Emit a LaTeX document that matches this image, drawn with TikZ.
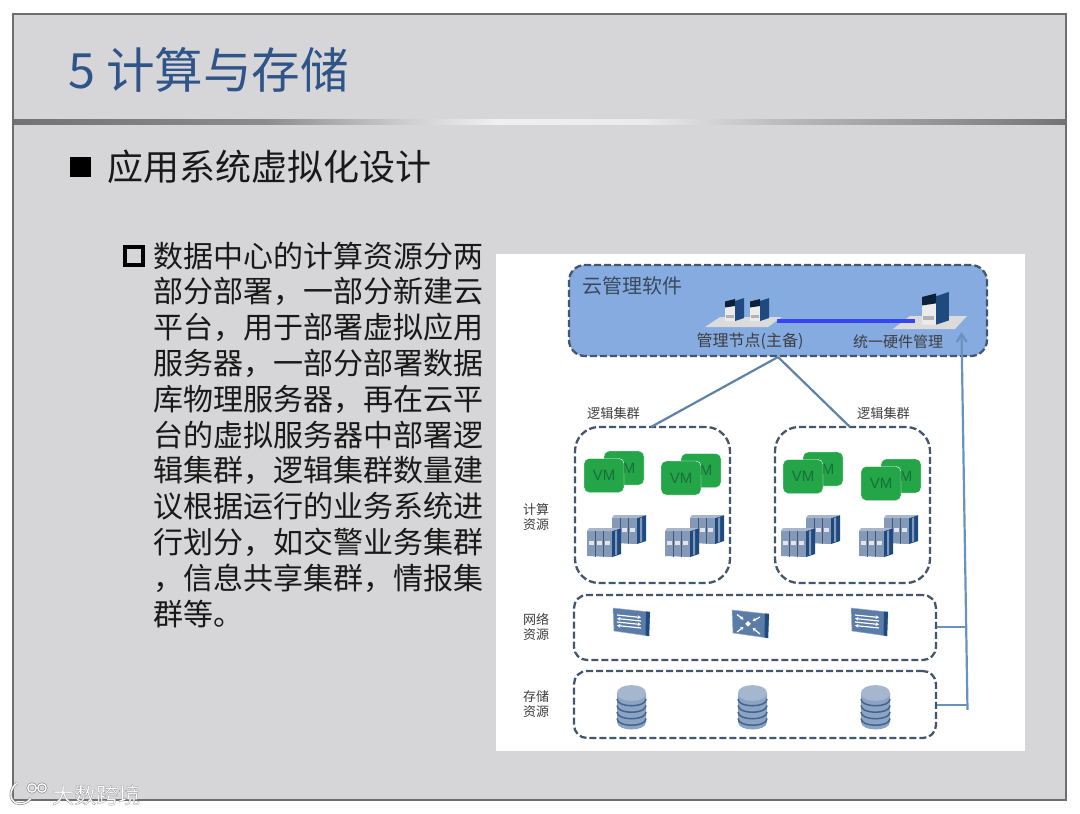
\documentclass[tikz,border=0pt]{standalone}
\usepackage{fontspec}
\setmainfont{Liberation Sans}
\newfontfamily\cjk{Noto Sans CJK SC}
\newfontfamily\wmfont[FakeBold=1.0]{Noto Sans CJK SC}
\usetikzlibrary{arrows.meta,shapes.geometric}
\definecolor{slidebg}{HTML}{D6D6D8}
\definecolor{framec}{HTML}{6E6E70}
\definecolor{titleblue}{HTML}{2F5488}
\definecolor{dashc}{HTML}{44566C}
\definecolor{linkc}{HTML}{5F83A6}
\definecolor{busc}{HTML}{6A92BC}
\definecolor{cloudc}{HTML}{86ABE0}
\definecolor{vmg}{HTML}{23A548}
\definecolor{vmt}{HTML}{17703A}
\definecolor{dkblue}{HTML}{1E4A80}
\definecolor{midblue}{HTML}{5C7CA8}
\definecolor{rackc}{HTML}{8498B8}
\definecolor{labelc}{HTML}{3E3E3E}
\pgfdeclarehorizontalshading{rulesh}{100bp}{color(0bp)=(black!55); color(25bp)=(black!55); color(37bp)=(black!45); color(44bp)=(black!18); color(48bp)=(black!6); color(55bp)=(black!8); color(62bp)=(black!28); color(72bp)=(black!48); color(75bp)=(black!55); color(100bp)=(black!55)}
\tikzset{
  dashbox/.style={draw=dashc,line width=2.3pt,dash pattern=on 7pt off 3pt,rounded corners=#1},
  dashbox/.default=18pt,
  vmbox/.style={fill=vmg,draw=white,line width=.4pt,rounded corners=5pt,minimum width=40pt,minimum height=34pt,inner sep=0pt,text=vmt,font=\fontsize{15}{15}\selectfont},
  reslabel/.style={font=\cjk\fontsize{13}{15.5}\selectfont,text=labelc,align=center,inner sep=0pt},
  smalllabel/.style={font=\cjk\fontsize{13.2}{14}\selectfont,text=labelc,inner sep=0pt},
  nodelabel/.style={font=\cjk\fontsize{15}{16}\selectfont,text=labelc,inner sep=0pt},
  linkline/.style={draw=linkc,line width=2.2pt},
  busline/.style={draw=busc,line width=2.2pt},
  wharrow/.style={draw=white,line width=1.2pt,-{Stealth[length=3.4pt,width=3.8pt]}},
  logoshadow/.style={draw=black!45,line width=2.6pt,fill=none},
  logostroke/.style={draw=white,line width=1.3pt,fill=none},
}
\newcommand\vmpair[3]{%
  \node[vmbox] (#1b) at ({#2+40},{#3-7.5}) {VM};
  \node[vmbox] (#1f) at ({#2+20},{#3}) {VM};
}
\newcommand\rackone[2]{%
  \begin{scope}[shift={(#1,#2)}]
    \fill[rackc] (0,3) -- (25,3) -- (25,29) -- (0,28) -- cycle;
    \fill[dkblue] (25,3) -- (34,0) -- (34,26) -- (25,29) -- cycle;
    \fill[rackc!70!white] (2,0) -- (34,0) -- (25,3) -- (0,3) -- cycle;
    \foreach \u in {8,16} \fill[midblue!70!black] (\u,3) rectangle (\u+1.4,28.5);
    \foreach \u in {1.5,9.8,18} \fill[white!75!rackc] (\u,13) rectangle (\u+5.4,17);
    \fill[rackc] (28,3) -- (30,2.3) -- (30,26.5) -- (28,27.2) -- cycle;
  \end{scope}}
\newcommand\rackpair[2]{\rackone{#1+25}{#2-13}\rackone{#1}{#2}}
\newcommand\switchbody{%
  \fill[midblue,draw=midblue!60!white,line width=.5pt] (0,0) -- (37,4) -- (36,28) -- (1,23) -- cycle;
  \fill[dkblue] (33,3.6) -- (37,4) -- (36,28) -- (32.5,27.5) -- cycle;
}
\newcommand\switchicon[2]{%
  \begin{scope}[shift={(#1,#2)}]
    \switchbody
    \draw[wharrow] (4,7) -- (28,9.5);
    \draw[wharrow] (28,13) -- (4,10.5);
    \draw[wharrow] (4,14) -- (28,16.5);
    \draw[wharrow] (28,20) -- (4,17.5);
  \end{scope}}
\newcommand\routericon[2]{%
  \begin{scope}[shift={(#1,#2)}]
    \switchbody
    \draw[wharrow] (5,4.5) -- (11.5,9.5);
    \draw[wharrow] (28,7) -- (20.5,11);
    \draw[wharrow] (5,22) -- (11.5,17);
    \draw[wharrow] (28,24) -- (20.5,18);
    \fill[white] (16,11) -- (18.8,13.8) -- (16,16.6) -- (13.2,13.8) -- cycle;
  \end{scope}}
\newcommand\dbicon[2]{%
  \begin{scope}[shift={(#1,#2)}]
    \fill[midblue!70!white] (0,8) -- (0,37) .. controls (0,47) and (29,47) .. (29,37) -- (29,8) -- cycle;
    \foreach \v in {14,20.5,27,33.5}
      \draw[dkblue!85!white,line width=1.5pt] (0,\v) .. controls (0,{\v+9}) and (29,{\v+9}) .. (29,\v);
    \fill[white!45!midblue] (0,8) .. controls (0,-2.5) and (29,-2.5) .. (29,8) .. controls (29,18.5) and (0,18.5) .. (0,8) -- cycle;
  \end{scope}}
\newcommand\serverico[3]{%
  \begin{scope}[shift={(#1,#2)},scale=#3]
    \fill[white!92!black] (0,5) -- (10,3) -- (10,23) -- (0,23) -- cycle;
    \fill[black!55!dkblue] (0,3.5) -- (10,1) -- (10,8) -- (0,9.5) -- cycle;
    \fill[dkblue] (10,3) -- (19,0) -- (19,20) -- (10,23) -- cycle;
    \fill[black!30] (1,17) rectangle (8.5,20);
  \end{scope}}
\begin{document}
\begin{tikzpicture}[x=1pt,y=-1pt]
\useasboundingbox (0,0) rectangle (1080,814);
\fill[white] (0,0) rectangle (1080,814);
% slide
\fill[slidebg] (13,14) rectangle (1066,800);
\shade[shading=rulesh] (14,119) rectangle (1065,124);
\draw[framec,line width=1.5pt] (13,14) rectangle (1066,800);
% texts
\node[anchor=west,inner sep=0pt,text=titleblue,font=\cjk\fontsize{48.6}{48}\selectfont] (title) at (68,70) {5 计算与存储};
\node[fill=black,inner sep=0pt,minimum width=21pt,minimum height=20pt] (bullet1) at (80.5,167) {};
\node[anchor=west,inner sep=0pt,text=black!90,font=\cjk\fontsize{36}{36}\selectfont] (sub) at (107,167) {应用系统虚拟化设计};
\node[draw=black,line width=3.6pt,fill=none,inner sep=0pt,minimum width=18pt,minimum height=18pt] (bullet2) at (134,256) {};
\node[anchor=north west,align=left,inner sep=0pt,text=black!90,font=\cjk\fontsize{30}{35.8}\selectfont] (body) at (153,241.5) {数据中心的计算资源分两\\部分部署，一部分新建云\\平台，用于部署虚拟应用\\服务器，一部分部署数据\\库物理服务器，再在云平\\台的虚拟服务器中部署逻\\辑集群，逻辑集群数量建\\议根据运行的业务系统进\\行划分，如交警业务集群\\，信息共享集群，情报集\\群等。};
% white panel
\fill[white] (496,254) rectangle (1025,751);
% boxes
\node[fill=cloudc,dashbox=16pt,minimum width=418pt,minimum height=91pt,inner sep=0pt] (cloud) at (778,310.5) {};
\node[dashbox=24pt,minimum width=155pt,minimum height=156pt,inner sep=0pt] (cluA) at (652.5,505) {};
\node[dashbox=24pt,minimum width=155pt,minimum height=156pt,inner sep=0pt] (cluB) at (852.5,505) {};
\node[dashbox=13pt,minimum width=362pt,minimum height=65pt,inner sep=0pt] (net) at (755,627.5) {};
\node[dashbox=13pt,minimum width=362pt,minimum height=67pt,inner sep=0pt] (sto) at (755,704.5) {};
% cloud contents
\node[anchor=west,inner sep=0pt,text=dashc!85!black,font=\cjk\fontsize{20}{20}\selectfont] (cloudt) at (582,286) {云管理软件};
\fill[black!14] (705,327) -- (720,317) -- (782,317) -- (768,327) -- cycle;
\fill[black!14] (893,329) -- (910,316) -- (967,316) -- (955,329) -- cycle;
\coordinate (mgr) at (777,321);
\coordinate (hw) at (915,321);
\draw[blue!60!cloudc,line width=3.2pt] (mgr) -- (hw);
\serverico{725}{298}{1}
\serverico{750}{298}{1}
\serverico{922}{292}{1.42}
\node[nodelabel,font=\cjk\fontsize{16}{16}\selectfont] (mgrt) at (750,341) {管理节点(主备)};
\node[nodelabel] (hwt) at (898,341.5) {统一硬件管理};
% connectors
\coordinate (apex) at (778,357);
\coordinate (cAtop) at (651,427);
\coordinate (cBtop) at (850,427);
\draw[linkline] (apex) -- (cAtop);
\draw[linkline] (apex) -- (cBtop);
\node[smalllabel] (cAt) at (613.5,413) {逻辑集群};
\node[smalllabel] (cBt) at (883.5,413) {逻辑集群};
% VMs and racks
\vmpair{vma}{584}{475.5}
\vmpair{vmb}{661}{478}
\vmpair{vmc}{783}{476.5}
\vmpair{vmd}{861}{483.5}
\rackpair{587}{528}
\rackpair{665}{528}
\rackpair{781}{528}
\rackpair{859}{528}
% side labels
\node[reslabel] (lc) at (536,517) {计算\\资源};
\node[reslabel] (ln) at (536,627) {网络\\资源};
\node[reslabel] (ls) at (536,704) {存储\\资源};
% network and storage icons
\switchicon{613}{608}
\routericon{732}{610}
\switchicon{851}{608}
\dbicon{617}{685}
\dbicon{738}{685}
\dbicon{861}{685}
% bus
\coordinate (busbot) at (967.5,710);
\coordinate (bustop) at (961.5,332);
\coordinate (netr) at (966.2,627);
\coordinate (stor) at (967.4,705);
\draw[busline,-{Straight Barb[length=8pt,width=10pt]}] (busbot) -- (bustop);
\draw[busline] (net.east |- netr) -- (netr);
\draw[busline] (sto.east |- stor) -- (stor);
% watermark
\draw[logoshadow] (17,783) .. controls (9,789) and (9,800) .. (16,803) .. controls (21,805) and (28,803) .. (31,798);
\draw[logoshadow] (32,788) circle (4.2pt);
\draw[logoshadow] (42,788) circle (4.2pt);
\draw[logostroke] (17,783) .. controls (9,789) and (9,800) .. (16,803) .. controls (21,805) and (28,803) .. (31,798);
\draw[logostroke] (32,788) circle (4.2pt);
\draw[logostroke] (42,788) circle (4.2pt);
\node[anchor=west,inner sep=0pt,font=\wmfont\fontsize{22}{22}\selectfont] (wm) at (52,795) {\special{pdf:bcolor [1] [0.55]}大数跨境\special{pdf:ecolor}};
\end{tikzpicture}
\end{document}
